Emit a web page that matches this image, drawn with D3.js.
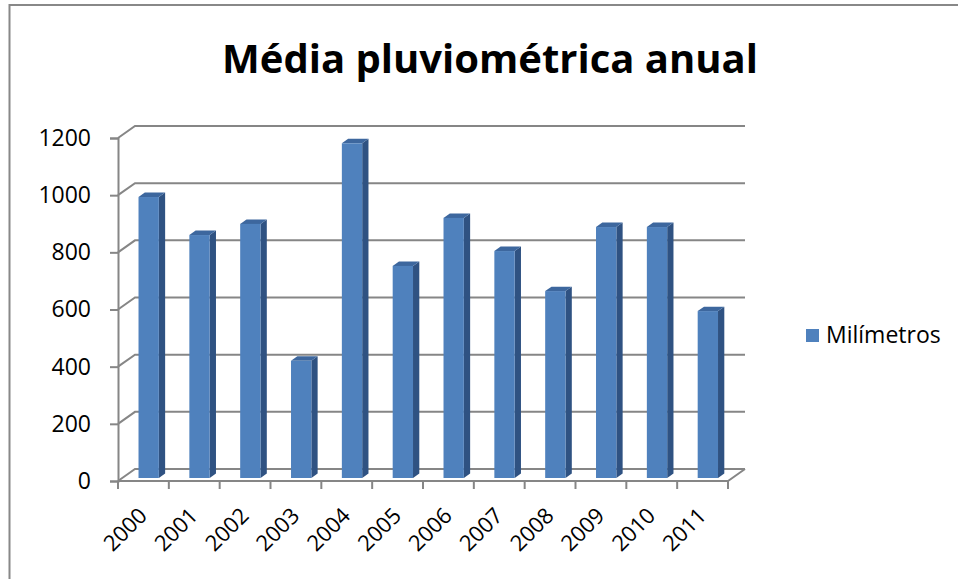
<!DOCTYPE html>
<html>
<head>
<meta charset="utf-8">
<script src="https://cdn.jsdelivr.net/npm/d3@7"></script>
<style>
  body { margin: 0; background: #fff; }
  text { font-family: "Open Sans", sans-serif; fill: #000; }
</style>
</head>
<body>
<svg id="chart" width="958" height="579"></svg>
<script>
const years = ['2000', '2001', '2002', '2003', '2004', '2005', '2006', '2007', '2008', '2009', '2010', '2011'];
const milimetros = [983, 850, 889, 410, 1171, 742, 910, 794, 654, 878, 878, 584];
const yTicks = [0, 200, 400, 600, 800, 1000, 1200];
const title = 'Média pluviométrica anual';
const seriesName = 'Milímetros';

// 3d depth of the plot box
const depth = { dx: 17, dy: -12 };
const gridColor = '#868686';

const svg = d3.select('#chart');

// frame around the chart
svg.append('line').attr('x1', 9).attr('x2', 958).attr('y1', 5).attr('y2', 5)
  .attr('stroke', '#888').attr('stroke-width', 2);
svg.append('line').attr('x1', 9.5).attr('x2', 9.5).attr('y1', 4).attr('y2', 579)
  .attr('stroke', '#888').attr('stroke-width', 2);

const x = d3.scaleBand().domain(years).range([118, 728]);
const y = d3.scaleLinear().domain([0, 1200]).range([481, 138]);

const g = svg.append('g');

// back wall gridlines and the diagonals to the front axis
yTicks.forEach(t => {
  const y0 = y(t);
  g.append('path')
    .attr('d', `M118,${y0}L${118 + depth.dx},${y0 + depth.dy}L${728 + depth.dx},${y0 + depth.dy}`)
    .attr('fill', 'none').attr('stroke', gridColor).attr('stroke-width', 2);
});

// floor front edge
g.append('path')
  .attr('d', `M118,${y(0)}L728,${y(0)}L${728 + depth.dx},${y(0) + depth.dy}`)
  .attr('fill', 'none').attr('stroke', gridColor).attr('stroke-width', 2);

// y axis
const yAxis = g.append('g').attr('transform', 'translate(118,0)')
  .call(d3.axisLeft(y).tickValues(yTicks).tickSize(8).tickPadding(19).tickFormat(d3.format('d')));
yAxis.select('.domain').attr('stroke', gridColor).attr('stroke-width', 2);
yAxis.selectAll('.tick line').attr('stroke', gridColor).attr('stroke-width', 2);
yAxis.selectAll('.tick text').style('font-size', '23px').attr('fill', '#1a1a1a');

// x axis ticks
g.selectAll('.xtick').data(x.domain().concat(['end'])).enter().append('line')
  .attr('class', 'xtick')
  .attr('x1', (d, i) => 118 + i * x.bandwidth())
  .attr('x2', (d, i) => 118 + i * x.bandwidth())
  .attr('y1', y(0)).attr('y2', y(0) + 8)
  .attr('stroke', gridColor).attr('stroke-width', 2);

g.selectAll('.xlabel').data(years).enter().append('text')
  .attr('class', 'xlabel')
  .attr('transform', d => `translate(${x(d) + x.bandwidth() / 2 + 5},${y(0) + 36}) rotate(-45)`)
  .attr('text-anchor', 'end')
  .style('font-size', '22px')
  .attr('fill', '#1a1a1a')
  .text(d => d);

// bars, set back into the depth of the box
const front = 0.25, back = 0.62;
const bw = x.bandwidth() * 0.4;
const bars = g.selectAll('.bar').data(years.map((yr, i) => ({ yr, v: milimetros[i] })))
  .enter().append('g').attr('class', 'bar');

const fx = d => x(d.yr) + x.bandwidth() * 0.32 + depth.dx * front;
const fy0 = y(0) + depth.dy * front;
const fy1 = d => y(d.v) + depth.dy * front;
const ddx = depth.dx * (back - front);
const ddy = depth.dy * (back - front);

bars.append('path') // side
  .attr('d', d => `M${fx(d) + bw},${fy0}L${fx(d) + bw + ddx},${fy0 + ddy}L${fx(d) + bw + ddx},${fy1(d) + ddy}L${fx(d) + bw},${fy1(d)}Z`)
  .attr('fill', '#2f5282');
bars.append('path') // top
  .attr('d', d => `M${fx(d)},${fy1(d)}L${fx(d) + ddx},${fy1(d) + ddy}L${fx(d) + bw + ddx},${fy1(d) + ddy}L${fx(d) + bw},${fy1(d)}Z`)
  .attr('fill', '#3d679e');
bars.append('rect') // front
  .attr('x', fx).attr('y', fy1)
  .attr('width', bw).attr('height', d => fy0 - fy1(d))
  .attr('fill', '#4f81bd');

// title
svg.append('text')
  .attr('x', 490).attr('y', 73)
  .attr('text-anchor', 'middle')
  .style('font-size', '40px').style('font-weight', 'bold')
  .text(title);

// legend
svg.append('rect').attr('x', 806).attr('y', 329).attr('width', 13).attr('height', 13).attr('fill', '#4f81bd');
svg.append('text').attr('x', 826).attr('y', 343)
  .style('font-size', '23px').attr('fill', '#1a1a1a')
  .text(seriesName);
</script>
</body>
</html>
